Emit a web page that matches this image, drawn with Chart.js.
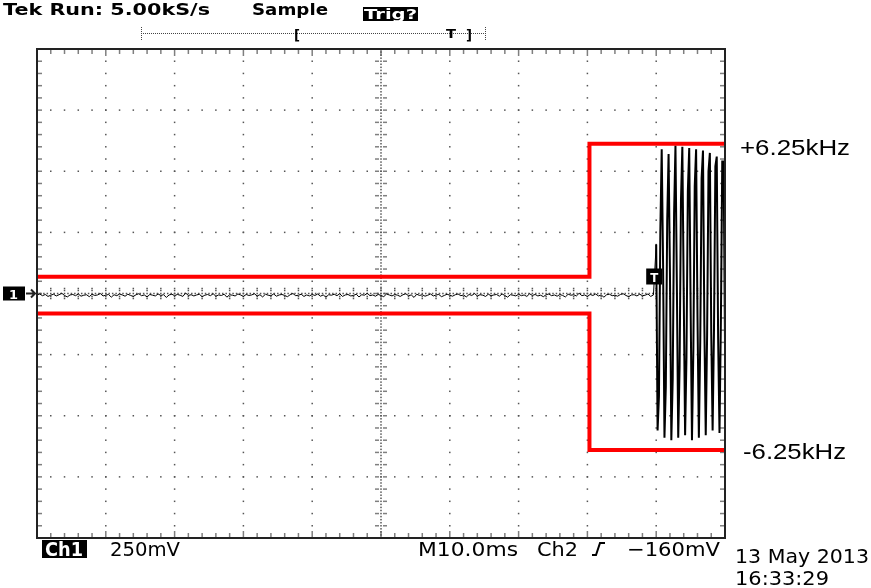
<!DOCTYPE html>
<html>
<head>
<meta charset="utf-8">
<script src="https://cdn.jsdelivr.net/npm/chart.js@4.4.1/dist/chart.umd.min.js"></script>
<style>
  html, body { margin: 0; background: #fff; }
  canvas { display: block; }
</style>
</head>
<body>
<canvas id="scope" width="871" height="588"></canvas>
<script>
// time in ms (10 ms/div), ch1 in volts (250 mV/div)
const timeRange = [0, 100];
const voltRange = [-1, 1];

// idle noise before the burst, one reading every 0.4 ms
const noiseStepMs = 0.4;
const noiseMv = [
  -6, -2, -9, -4, -12, -7, -3, -10, -5, 1, -8, -14, -6, -4, -9, -2, -11, -7, -5, -13, -3, -8, -6, 0, -10,
  -7, -4, -15, -5, -9, -2, -6, -11, -3, -8, -12, -5, -1, -9, -6, -14, -4, -7, -10, -2, -8, -5, -16, -6, -3,
  -9, -4, -7, -12, 2, -8, -5, -10, -6, -3, -13, -7, -4, -9, -1, -11, -6, -8, -3, -15, -5, -7, -10, -2, -6,
  -12, -4, -8, -6, -1, -10, -5, -14, -3, -7, -9, -2, -11, -6, -4, -8, -13, -5, 0, -9, -7, -3, -12, -6, -10,
  -4, -8, -2, -11, -6, -15, -5, -7, -3, -9, -1, -12, -6, -4, -10, -8, -3, -14, -5, -7, 1, -9, -6, -11, -4,
  -8, -13, -2, -6, -10, -4, -7, -12, -5, -1, -9, -6, -16, -3, -8, -5, -11, -7, -2, -10, -6, -4, -13, -8, -3,
  -7, -11, -5, -2, -9, -6, -14, -4, -8, 0, -10, -5, -7, -12, -3, -9, -6, -4, -11, -2, -8, -15, -5, -7, -10,
  -3, -9, -6, -12, -1, -8, -4, -10, -7, -13, -5, -2, -9, -6, -11, -4, -8, -14, -3, -7, -5, -10, 1, -9, -6,
  -12, -4, -8, -2, -10, -6, -15, -5, -3, -9, -7, -11, -4, -1, -8, -13, -6, -5, -10, -3, -9, -7, -2, -12, -6
];

// burst after the trigger, sampled at 5.00 kS/s
const burstStartMs = 90;
const burstStepMs = 0.2;
const burstMv = [
  200, -560, -420, 250, 590, 120, -590, -380, 300, 570,
  80, -600, -350, 330, 605, 40, -590, -300, 380, 600,
  0, -580, -260, 420, 595, -50, -600, -230, 440, 590,
  -90, -590, -200, 470, 585, -130, -580, -170, 500, 575,
  -160, -560, -150, 520, 560, -180, -570, -120, 540, 540,
  -200
];

// red frequency limit overlay
const limitTimesMs = [0, 80.3, 80.3, 100];
const upperLimitV = [0.068, 0.068, 0.612, 0.612];
const lowerLimitV = [-0.082, -0.082, -0.64, -0.64];
const limitLabels = ['+6.25kHz', '-6.25kHz'];

const tracePoints = noiseMv.map((v, i) => ({ x: i * noiseStepMs, y: v / 1000 }))
  .concat(burstMv.map((v, i) => ({ x: burstStartMs + i * burstStepMs, y: v / 1000 })));
const upperPoints = limitTimesMs.map((t, i) => ({ x: t, y: upperLimitV[i] }));
const lowerPoints = limitTimesMs.map((t, i) => ({ x: t, y: lowerLimitV[i] }));

// stretch text horizontally so it covers a given width (scope bitmap font look)
function fitText(ctx, s, x, base, w, font, color) {
  ctx.font = font;
  const m = ctx.measureText(s).width;
  ctx.save();
  ctx.translate(x, base);
  ctx.scale(w / m, 1);
  ctx.fillStyle = color || '#000';
  ctx.textBaseline = 'alphabetic';
  ctx.fillText(s, 0, 0);
  ctx.restore();
}

const graticule = {
  id: 'graticule',
  beforeDatasetsDraw(chart) {
    const { ctx, chartArea: a, scales: { x, y } } = chart;
    const dx = (a.right - a.left) / 10, dy = (a.bottom - a.top) / 8;
    const cx = x.getPixelForValue(50), cy = y.getPixelForValue(0);
    ctx.save();
    ctx.fillStyle = '#555';
    const dot = (px, py) => ctx.fillRect(px - 0.75, py - 0.75, 1.5, 1.5);

    // dotted division lines
    for (let i = 1; i < 10; i++) {
      if (i === 5) continue;
      for (let j = 0; j <= 40; j++) dot(a.left + i * dx, a.top + j * dy / 5);
    }
    for (let k = 1; k < 8; k++) {
      if (k === 4) continue;
      for (let j = 0; j <= 50; j++) dot(a.left + j * dx / 5, a.top + k * dy);
    }
    // centre cross with minor ticks
    for (let j = 0; j <= 160; j++) dot(cx, a.top + j * dy / 20);
    for (let j = 0; j <= 200; j++) dot(a.left + j * dx / 20, cy);
    for (let j = 0; j <= 40; j++) {
      const py = a.top + j * dy / 5;
      [-5, -3, 3, 5].forEach(o => dot(cx + o, py));
      [2, 4].forEach(o => { dot(a.left + o, py); dot(a.right - o, py); });
    }
    for (let j = 0; j <= 50; j++) {
      const px = a.left + j * dx / 5;
      [-5, -3, 3, 5].forEach(o => dot(px, cy + o));
      const n = j % 5 === 0 ? [2, 4, 6] : [2, 4];
      n.forEach(o => { dot(px, a.top + o); dot(px, a.bottom - o); });
    }
    ctx.restore();
  },
  afterDatasetsDraw(chart) {
    const { ctx, chartArea: a, scales: { x, y } } = chart;
    ctx.save();
    ctx.strokeStyle = '#222';
    ctx.lineWidth = 2;
    ctx.strokeRect(a.left, a.top, a.right - a.left, a.bottom - a.top);

    // trigger position marker
    const tx = x.getPixelForValue(burstStartMs) - 2;
    const ty = y.getPixelForValue(0) - 25;
    ctx.fillStyle = '#000';
    ctx.fillRect(tx - 8, ty, 16, 16);
    fitText(ctx, 'T', tx - 4, ty + 13, 8, 'bold 13px "DejaVu Sans"', '#fff');

    // ch1 ground marker
    const gy = y.getPixelForValue(0);
    ctx.fillStyle = '#000';
    ctx.fillRect(3, gy - 7, 22, 14);
    fitText(ctx, '1', 9, gy + 5, 9, 'bold 13px "DejaVu Sans"', '#fff');
    ctx.beginPath();
    ctx.lineWidth = 2;
    ctx.moveTo(26, gy); ctx.lineTo(35, gy);
    ctx.moveTo(31, gy - 4); ctx.lineTo(35, gy); ctx.lineTo(31, gy + 4);
    ctx.stroke();

    // limit labels
    fitText(ctx, limitLabels[0], a.right + 15, y.getPixelForValue(upperLimitV[3]) + 11, 110, '22px "Liberation Sans"');
    fitText(ctx, limitLabels[1], a.right + 18, y.getPixelForValue(lowerLimitV[3]) + 9, 103, '22px "Liberation Sans"');
    ctx.restore();
  },
  afterDraw(chart) {
    const { ctx } = chart;
    ctx.save();
    // header
    fitText(ctx, 'Tek Run: 5.00kS/s', 3, 15, 207, 'bold 15px "DejaVu Sans"');
    fitText(ctx, 'Sample', 252, 15, 76, 'bold 15px "DejaVu Sans"');
    ctx.fillStyle = '#000';
    ctx.fillRect(363, 7, 55, 14);
    fitText(ctx, 'Trig?', 364, 19, 53, 'bold 14px "DejaVu Sans"', '#fff');

    // record length bar
    ctx.fillStyle = '#444';
    for (let px = 141; px <= 485; px += 2) ctx.fillRect(px, 33, 1, 1);
    for (let py = 27; py <= 40; py += 2) { ctx.fillRect(141, py, 1, 1); ctx.fillRect(485, py, 1, 1); }
    fitText(ctx, '[', 294, 40, 6, 'bold 14px "DejaVu Sans"');
    fitText(ctx, 'T', 446, 38, 10, 'bold 13px "DejaVu Sans"');
    fitText(ctx, ']', 466, 40, 6, 'bold 14px "DejaVu Sans"');

    // footer
    ctx.fillStyle = '#000';
    ctx.fillRect(42, 540, 45, 18);
    const f = '20px "DejaVu Sans"';
    fitText(ctx, 'Ch1', 45, 556, 38, 'bold 19px "DejaVu Sans"', '#fff');
    fitText(ctx, '250mV', 110, 556, 70, f);
    fitText(ctx, 'M10.0ms', 418, 556, 100, f);
    fitText(ctx, 'Ch2', 537, 556, 41, f);
    ctx.strokeStyle = '#000';
    ctx.lineWidth = 2;
    ctx.beginPath();
    ctx.moveTo(592, 555); ctx.lineTo(596, 555); ctx.lineTo(600, 543); ctx.lineTo(605, 543);
    ctx.stroke();
    fitText(ctx, '\u2212160mV', 627, 556, 93, f);
    fitText(ctx, '13 May 2013', 735, 563, 134, f);
    fitText(ctx, '16:33:29', 735, 585, 94, f);
    ctx.restore();
  }
};

new Chart(document.getElementById('scope'), {
  type: 'line',
  data: {
    datasets: [
      { label: 'upper', data: upperPoints, borderColor: '#ff0000', borderWidth: 4, pointRadius: 0, order: 0 },
      { label: 'lower', data: lowerPoints, borderColor: '#ff0000', borderWidth: 4, pointRadius: 0, order: 0 },
      {
        label: 'ch1', data: tracePoints, borderColor: '#000', borderWidth: 1, pointRadius: 0, tension: 0, order: 1,
        segment: { borderWidth: c => c.p0.parsed.x >= burstStartMs ? 2 : 1 }
      }
    ]
  },
  plugins: [graticule],
  options: {
    responsive: false, devicePixelRatio: 1, animation: false,
    layout: { padding: { left: 37, top: 49, right: 146, bottom: 50 } },
    plugins: { legend: { display: false }, tooltip: { enabled: false } },
    scales: {
      x: { type: 'linear', min: timeRange[0], max: timeRange[1], display: false },
      y: { type: 'linear', min: voltRange[0], max: voltRange[1], display: false }
    }
  }
});
</script>
</body>
</html>
